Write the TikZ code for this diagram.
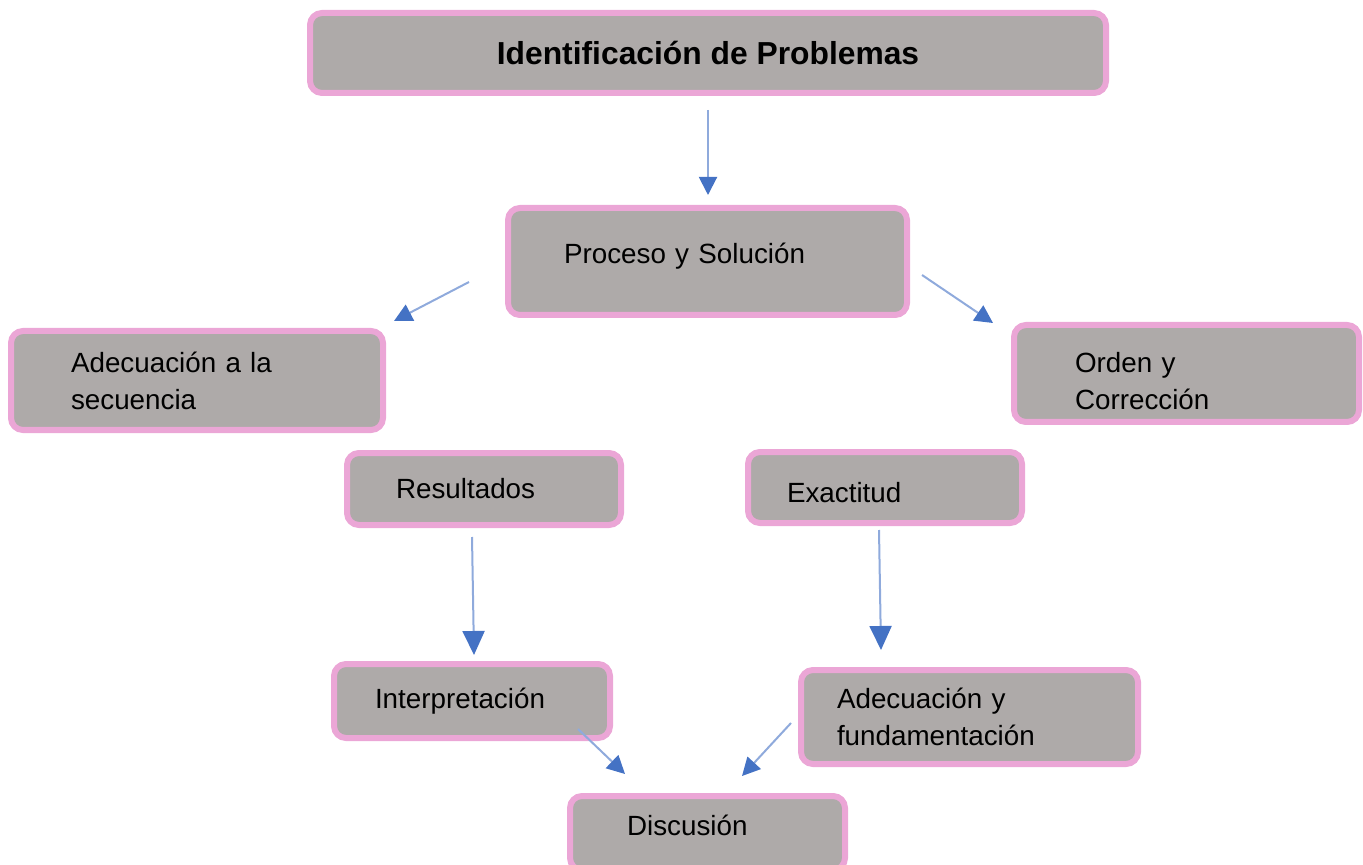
\documentclass[tikz,border=0pt]{standalone}
\usepackage{fontspec}
\setmainfont{Liberation Sans}
\usetikzlibrary{arrows.meta}

\definecolor{gris}{HTML}{AEAAA9}
\definecolor{rosa}{HTML}{EBA6D6}
\definecolor{azul}{HTML}{4472C4}
\definecolor{azulclaro}{HTML}{8FAADC}

\tikzset{
  caja/.style={draw=rosa, fill=gris, line width=3pt, rounded corners=6pt,
    align=left, inner ysep=0pt, font=\fontsize{13.9}{18.5}\selectfont},
  flecha/.style={draw=azulclaro, line width=1pt,
    -{Triangle[length=9pt,width=9pt,color=azul]}},
  flechagrande/.style={draw=azulclaro, line width=1pt,
    -{Triangle[length=12pt,width=11pt,color=azul]}}
}

\begin{document}
\begin{tikzpicture}[x=0.5pt,y=-0.5pt]
\useasboundingbox (0,0) rectangle (1363,865);

% cajas
\node[caja, align=center, font=\fontsize{15.9}{19}\selectfont\bfseries,
  minimum width=398pt, minimum height=40pt] (ident) at (708,53)
  {Identificación de Problemas};

\node[caja, minimum height=53.5pt, text width=143.5pt, inner xsep=28pt,
  text depth=8pt] (proceso) at (707.5,261.5) {Proceso y Solución};

\node[caja, minimum height=49.5pt, text width=126pt, inner xsep=30pt]
  (secuencia) at (197,380.5) {Adecuación a la\\secuencia};

\node[caja, minimum height=48.5pt, text width=111.5pt, inner xsep=30.5pt,
  text height=18pt] (orden) at (1186.5,373.5) {Orden y\\Corrección};

\node[caja, minimum height=36pt, text width=88pt, inner xsep=24.5pt]
  (resultados) at (484,489) {Resultados};

\node[caja, minimum height=35.5pt, text width=98pt, inner xsep=19.5pt,
  text height=15pt] (exactitud) at (885,487.5) {Exactitud};

\node[caja, minimum height=37pt, text width=97pt, inner xsep=20.5pt]
  (interp) at (472,701) {Interpretación};

\node[caja, minimum height=47pt, text width=132.5pt, inner xsep=18pt]
  (fundam) at (969.5,717) {Adecuación y\\fundamentación};

\node[caja, minimum height=37pt, text width=80.5pt, inner xsep=28.5pt,
  text depth=8.2pt] (discusion) at (707.5,833) {Discusión};

% extremos de las flechas
\coordinate (identsal) at (708,110);
\coordinate (procesoent) at (708,195);
\coordinate (procesoizq) at (469,282);
\coordinate (secuenciaent) at (394,321);
\coordinate (procesoder) at (922,275);
\coordinate (ordenent) at (993,323);
\coordinate (resultadossal) at (472,537);
\coordinate (interpent) at (474,655);
\coordinate (exactitudsal) at (879,530);
\coordinate (fundament) at (881,650);
\coordinate (interpsal) at (578,729);
\coordinate (discusionizq) at (625,774);
\coordinate (fundamsal) at (791,723);
\coordinate (discusionder) at (742,776);

% flechas
\draw[flecha] (identsal) -- (procesoent);
\draw[flecha] (procesoizq) -- (secuenciaent);
\draw[flecha] (procesoder) -- (ordenent);
\draw[flechagrande] (resultadossal) -- (interpent);
\draw[flechagrande] (exactitudsal) -- (fundament);
\draw[flecha] (interpsal) -- (discusionizq);
\draw[flecha] (fundamsal) -- (discusionder);

\end{tikzpicture}
\end{document}
